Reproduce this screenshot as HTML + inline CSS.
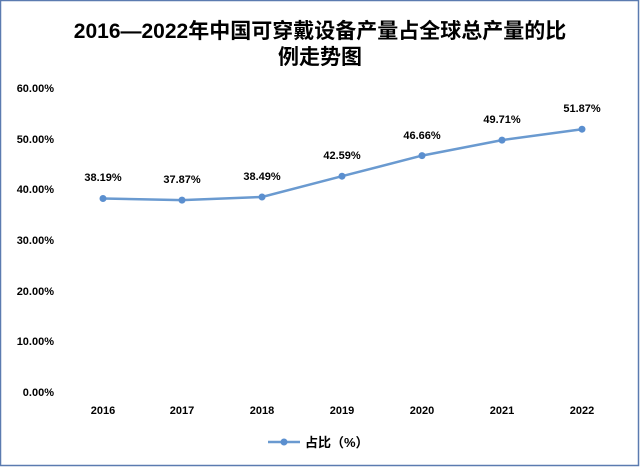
<!DOCTYPE html>
<html><head><meta charset="utf-8"><style>
html,body{margin:0;padding:0;background:#fff}
svg{display:block}
</style></head><body>
<svg width="640" height="467" xmlns="http://www.w3.org/2000/svg">
<rect x="0.5" y="0.5" width="638" height="465" fill="#fff" stroke="#5b7bb0" stroke-width="1.5"/>
<g font-family="'Liberation Sans','Noto Sans CJK SC',sans-serif" font-weight="bold" fill="#000" text-anchor="middle">
<text x="320" y="38" font-size="21">2016—2022年中国可穿戴设备产量占全球总产量的比</text>
<text x="320" y="64" font-size="21">例走势图</text>
</g>
<g font-family="'Liberation Sans',sans-serif" font-size="11" font-weight="bold" fill="#000" text-anchor="end">
<text x="54" y="92">60.00%</text>
<text x="54" y="143">50.00%</text>
<text x="54" y="193">40.00%</text>
<text x="54" y="244">30.00%</text>
<text x="54" y="295">20.00%</text>
<text x="54" y="345">10.00%</text>
<text x="54" y="396">0.00%</text>
</g>
<g font-family="'Liberation Sans',sans-serif" font-size="11" font-weight="bold" fill="#000" text-anchor="middle">
<text x="103" y="414">2016</text><text x="182" y="414">2017</text><text x="262" y="414">2018</text><text x="342" y="414">2019</text><text x="422" y="414">2020</text><text x="502" y="414">2021</text><text x="582" y="414">2022</text>
<text x="103" y="181">38.19%</text><text x="182" y="183">37.87%</text><text x="262" y="180">38.49%</text><text x="342" y="159">42.59%</text><text x="422" y="139">46.66%</text><text x="502" y="123">49.71%</text><text x="582" y="112">51.87%</text>
</g>
<polyline fill="none" stroke="#6a9ad0" stroke-width="2.5" points="103,198.5 182,200.1 262,197 342,176.2 422,155.6 502,140.1 582,129.2"/>
<g fill="#5b8fcf">
<circle cx="103" cy="198.5" r="3.5"/><circle cx="182" cy="200.1" r="3.5"/><circle cx="262" cy="197" r="3.5"/><circle cx="342" cy="176.2" r="3.5"/><circle cx="422" cy="155.6" r="3.5"/><circle cx="502" cy="140.1" r="3.5"/><circle cx="582" cy="129.2" r="3.5"/>
</g>
<line x1="268" y1="442" x2="300" y2="442" stroke="#6a9ad0" stroke-width="2.5"/>
<circle cx="284" cy="442" r="3.5" fill="#5b8fcf"/>
<text x="305" y="447" font-family="'Liberation Sans','Noto Sans CJK SC',sans-serif" font-size="13" font-weight="bold">占比（%）</text>
</svg>
</body></html>
